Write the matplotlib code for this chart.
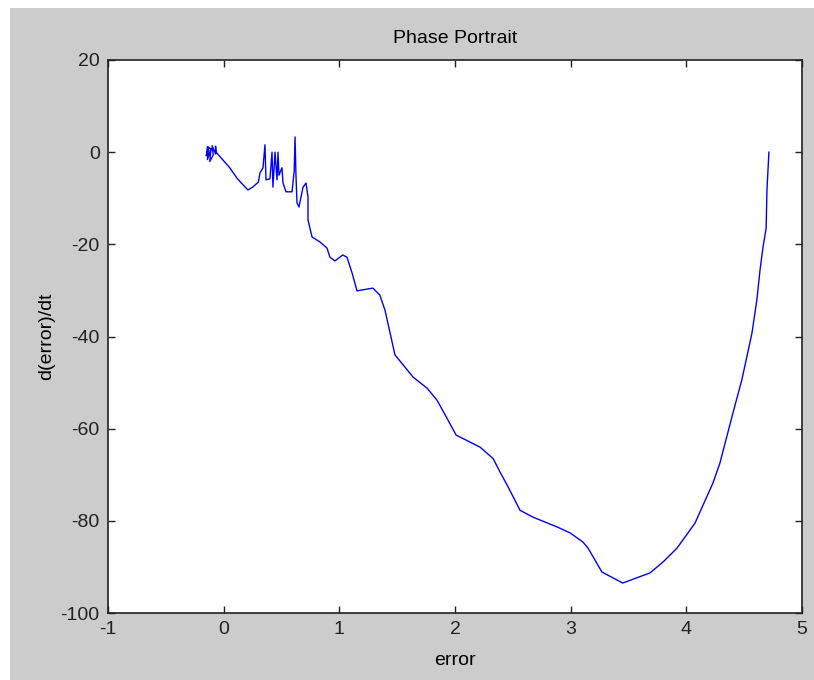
import matplotlib.pyplot as plt
from matplotlib.patches import Rectangle

# phase portrait points (error, d(error)/dt)
err = [-0.10, -0.14, -0.15, -0.13, -0.14, -0.11, -0.12, -0.09, -0.10, -0.07,
       -0.07, -0.066, 0.05, 0.12, 0.21, 0.25, 0.30, 0.314, 0.34, 0.357,
       0.366, 0.40, 0.418, 0.426, 0.444, 0.461, 0.470, 0.478, 0.504, 0.513,
       0.539, 0.591, 0.610, 0.617, 0.625, 0.634, 0.651, 0.686, 0.712, 0.729,
       0.729, 0.764, 0.833, 0.893, 0.919, 0.962, 1.03, 1.066, 1.11, 1.153,
       1.196, 1.29, 1.35, 1.395, 1.481, 1.54, 1.637, 1.758, 1.844, 1.93,
       2.01, 2.216, 2.33, 2.389, 2.45, 2.562, 2.674, 2.88, 2.994, 3.106,
       3.15, 3.27, 3.45, 3.686, 3.80, 3.92, 4.075, 4.23, 4.29, 4.403,
       4.48, 4.568, 4.61, 4.637, 4.663, 4.69, 4.697, 4.714]
derr = [0.5, 1.2, -0.8, 1.0, -1.6, 0.8, -2.0, -0.6, 1.4, -0.4,
        1.3, 0.0, -3.3, -5.8, -8.2, -7.6, -6.5, -4.5, -3.4, 1.6,
        -6.0, -5.8, 0.0, -7.6, 0.0, -6.0, 0.0, -5.0, -3.4, -6.7,
        -8.6, -8.6, -4.0, 3.3, -5.0, -11.0, -11.9, -7.6, -6.7, -9.7,
        -14.7, -18.4, -19.5, -20.8, -22.8, -23.6, -22.3, -22.8, -26.2, -30.1,
        -29.9, -29.5, -31.0, -34.3, -44.0, -45.8, -48.8, -51.2, -53.8, -57.7,
        -61.4, -64.0, -66.5, -69.4, -72.2, -77.7, -79.2, -81.3, -82.6, -84.6,
        -85.9, -91.1, -93.5, -91.3, -88.9, -85.9, -80.5, -71.8, -67.5, -56.6,
        -49.4, -39.2, -32.0, -25.6, -20.6, -16.5, -8.2, 0.0]

x_ticks = [-1, 0, 1, 2, 3, 4, 5]
y_ticks = [20, 0, -20, -40, -60, -80, -100]

plt.rcParams['font.family'] = ['Liberation Sans', 'DejaVu Sans']
plt.rcParams['font.size'] = 14
plt.rcParams['axes.unicode_minus'] = False

fig = plt.figure(figsize=(8.14, 6.8), dpi=100, facecolor='white')
# grey window area (white strip on the left and top like the screenshot)
fig.patches.append(Rectangle((10 / 814, 0), 1, 672 / 680, transform=fig.transFigure,
                             facecolor='#cccccc', edgecolor='none', zorder=-10))

ax = fig.add_axes([108 / 814, 67 / 680, 694 / 814, 553 / 680])
ax.set_zorder(1)
ax.set_facecolor('white')
ax.plot(err, derr, color='#0000ff', linewidth=1.0)

ax.set_xlim(-1, 5)
ax.set_ylim(-100, 20)
ax.set_xticks(x_ticks)
ax.set_yticks(y_ticks)
ax.tick_params(direction='in', length=5, width=1, top=True, right=True,
               labelsize=14, pad=6, colors='#222222')
for s in ax.spines.values():
    s.set_color('#222222')
    s.set_linewidth(1.2)

ax.set_title('Phase Portrait', fontsize=14, pad=12)
ax.set_xlabel('error', fontsize=14, labelpad=10)
ax.set_ylabel('d(error)/dt', fontsize=14, labelpad=4)

fig.savefig('out.png', dpi=100, facecolor=fig.get_facecolor())
